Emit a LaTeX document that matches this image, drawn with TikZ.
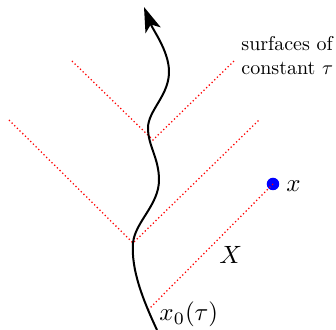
\documentclass[tikz,border=0pt]{standalone}
\usetikzlibrary{arrows.meta}
\begin{document}
\begin{tikzpicture}[x=0.4pt,y=-0.4pt,
  surf/.style={red,densely dotted,line width=0.5pt},
  world/.style={black,line width=0.8pt,-{Stealth[length=10pt,width=6.5pt,inset=2.5pt]}},
  lbl/.style={inner sep=0pt}]
\useasboundingbox (0,0) rectangle (336,330);
% lower V
\coordinate (v1) at (133,243);
\coordinate (v1l) at (9,120);
\coordinate (v1r) at (259,120);
% upper V
\coordinate (v2) at (153,140);
\coordinate (v2l) at (72,61);
\coordinate (v2r) at (234,61);
% bottom surface
\coordinate (b0) at (148,310);
\node[circle,fill=blue,inner sep=0pt,minimum size=5pt] (xp) at (273,184) {};
\draw[surf] (v1l) -- (v1) -- (v1r);
\draw[surf] (v2l) -- (v2) -- (v2r);
\draw[surf] (b0) -- (xp.center);
% worldline
\coordinate (w0) at (157,330);
\coordinate (w1) at (133,243);
\coordinate (w2) at (159,180);
\coordinate (w3) at (148,128);
\coordinate (w4) at (169,70);
\coordinate (w5) at (144,7);
\draw[world] (w0) .. controls (143,300) and (131,270) .. (w1)
  .. controls (135,222) and (159,205) .. (w2)
  .. controls (159,158) and (148,146) .. (w3)
  .. controls (148,110) and (170,95) .. (w4)
  .. controls (168,50) and (153,30) .. (w5);
% labels
\node[lbl,anchor=base west] (lx0) at (159,321) {$x_0(\tau)$};
\node[lbl,anchor=base west] (lX) at (219,264) {$X$};
\node[lbl,anchor=base west] (lx) at (286,192) {$x$};
\node[lbl,anchor=north west,align=left,scale=0.8] (ls) at (241,36.5) {surfaces of\\constant $\tau$};
\end{tikzpicture}
\end{document}
